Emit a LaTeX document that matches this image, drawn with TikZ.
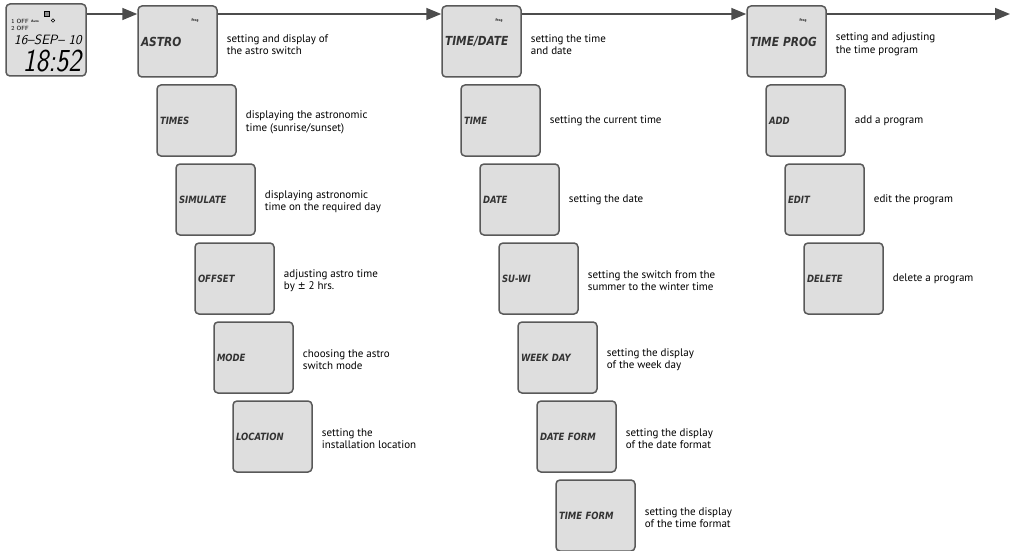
\documentclass[tikz,border=0pt]{standalone}
\usepackage{fontspec}
\setmainfont{PT Sans}
\newfontfamily\lcdfont[FakeStretch=0.85]{DejaVu Sans}
\usetikzlibrary{arrows.meta,positioning}

\begin{document}
\begin{tikzpicture}[x=1pt,y=-1pt,
  menu/.style={rectangle,rounded corners=4pt,draw=black!65,line width=1.5pt,fill=black!13,
    minimum width=79pt,minimum height=71pt,text width=73pt,inner sep=3pt,align=left,
    font=\lcdfont\bfseries\itshape\fontsize{10}{10}\selectfont,text=black!80},
  mainmenu/.style={menu,font=\lcdfont\bfseries\itshape\fontsize{12.5}{12.5}\selectfont},
  desc/.style={align=left,inner sep=0pt,font=\fontsize{11}{12.5}\selectfont},
  prog/.style={inner sep=0pt,font=\bfseries\fontsize{3.5}{4}\selectfont},
  seg/.style={inner sep=0pt,font=\sffamily\itshape},
  rail/.style={draw=black!70,line width=1.6pt,-{Triangle[length=15pt,width=12pt]}}]

\useasboundingbox (0,0) rectangle (1010,551);

% display
\node (lcd) at (46,40) [menu,minimum width=80pt,minimum height=72pt] {};
\node (sym) at (47,14) [draw,line width=0.6pt,fill=black!45,minimum size=5pt,inner sep=0pt] {};
\node (offa) at (20,21) [seg,font=\sffamily\fontsize{6}{6}\selectfont] {1 OFF};
\node (auto) at (35,21) [seg,font=\sffamily\bfseries\fontsize{3.5}{3.5}\selectfont] {Auto};
\node (pwr) at (53,20.5) [circle,draw,line width=0.4pt,minimum size=3.5pt,inner sep=0pt] {};
\node (offb) at (20,28.5) [seg,font=\sffamily\fontsize{6}{6}\selectfont] {2 OFF};
\node (day) at (48,40) [seg,font=\sffamily\itshape\fontsize{13.5}{14}\selectfont] {16--SEP-- 10};
\node (clock) at (52,61) [seg,font=\sffamily\itshape\fontsize{32}{32}\selectfont,xscale=0.85,transform shape] {18:52};
\coordinate (top) at (0,14);
\coordinate (end) at (1010,14);

% astro
\node (astro) at (177.5,41.5) [mainmenu] {ASTRO};
\node (astroprog) at (195,21) [prog] {Prog};
\node (times) at (196.5,120.5) [menu] {TIMES};
\node (simulate) at (215.5,199.5) [menu] {SIMULATE};
\node (offset) at (234.5,278.5) [menu] {OFFSET};
\node (mode) at (253.5,357.5) [menu] {MODE};
\node (location) at (272.5,436.5) [menu] {LOCATION};

\node (astrotext) [desc,right=9pt of astro,yshift=-3pt] {setting and display of\\the astro switch};
\node (timestext) [desc,right=9pt of times,yshift=-2pt] {displaying the astronomic\\time (sunrise/sunset)};
\node (simulatetext) [desc,right=9pt of simulate,yshift=-2pt] {displaying astronomic\\time on the required day};
\node (offsettext) [desc,right=9pt of offset,yshift=-2pt] {adjusting astro time\\by {\lcdfont ±} 2 hrs.};
\node (modetext) [desc,right=9pt of mode,yshift=-2pt] {choosing the astro\\switch mode};
\node (locationtext) [desc,right=9pt of location,yshift=-2pt] {setting the\\installation location};

% time/date
\node (timedate) at (481.5,41.5) [mainmenu] {TIME/DATE};
\node (timedateprog) at (499,21) [prog] {Prog};
\node (time) at (500.5,120.5) [menu] {TIME};
\node (date) at (519.5,199.5) [menu] {DATE};
\node (suwi) at (538.5,278.5) [menu] {SU-WI};
\node (weekday) at (557.5,357.5) [menu] {WEEK DAY};
\node (dateform) at (576.5,436.5) [menu] {DATE FORM};
\node (timeform) at (595.5,515.5) [menu] {TIME FORM};

\node (timedatetext) [desc,right=9pt of timedate,yshift=-3pt] {setting the time\\and date};
\node (timetext) [desc,right=9pt of time] {setting the current time};
\node (datetext) [desc,right=9pt of date] {setting the date};
\node (suwitext) [desc,right=9pt of suwi,yshift=-2pt] {setting the switch from the\\summer to the winter time};
\node (weekdaytext) [desc,right=9pt of weekday,yshift=-2pt] {setting the display\\of the week day};
\node (dateformtext) [desc,right=9pt of dateform,yshift=-2pt] {setting the display\\of the date format};
\node (timeformtext) [desc,right=9pt of timeform,yshift=-2pt] {setting the display\\of the time format};

% time prog
\node (timeprog) at (786.5,41.5) [mainmenu] {TIME PROG};
\node (timeprogprog) at (803,21) [prog] {Prog};
\node (add) at (805.5,120.5) [menu] {ADD};
\node (edit) at (824.5,199.5) [menu] {EDIT};
\node (delete) at (843.5,278.5) [menu] {DELETE};

\node (timeprogtext) [desc,right=9pt of timeprog,yshift=-3pt] {setting and adjusting\\the time program};
\node (addtext) [desc,right=9pt of add] {add a program};
\node (edittext) [desc,right=9pt of edit] {edit the program};
\node (deletetext) [desc,right=9pt of delete] {delete a program};

% main line
\draw[rail] (lcd.east |- top) -- (astro.west |- top);
\draw[rail] (astro.east |- top) -- (timedate.west |- top);
\draw[rail] (timedate.east |- top) -- (timeprog.west |- top);
\draw[rail] (timeprog.east |- top) -- (end);
\end{tikzpicture}
\end{document}
